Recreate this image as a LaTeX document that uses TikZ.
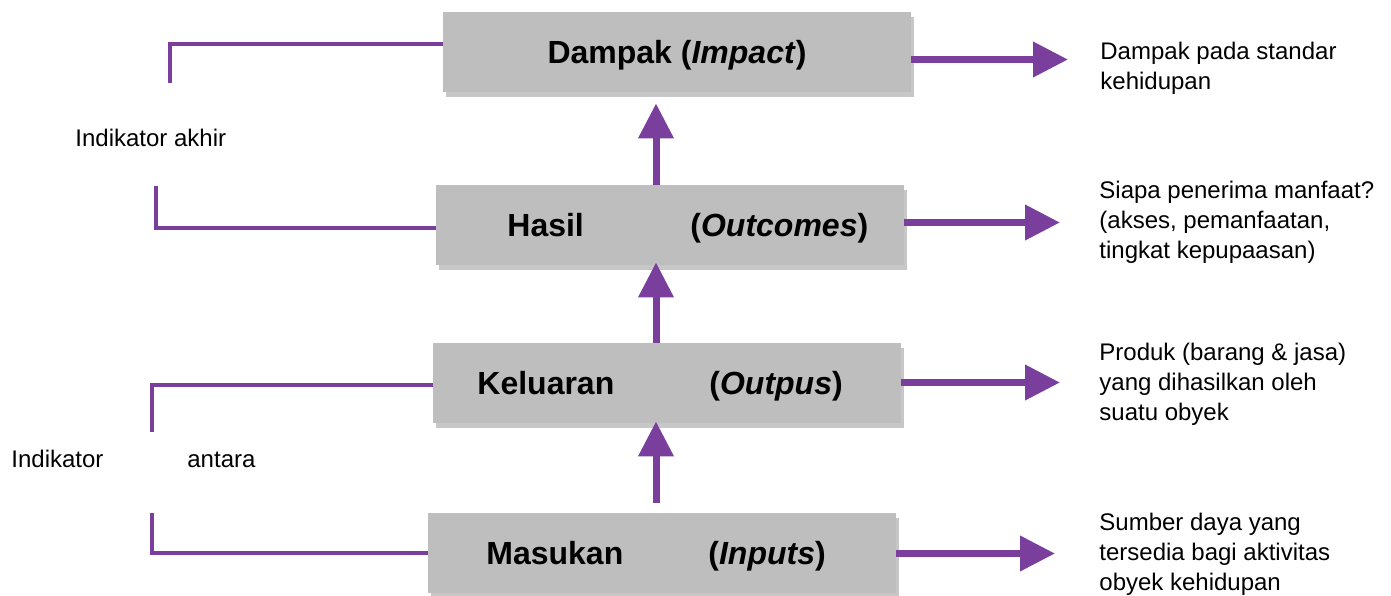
\documentclass[tikz,border=0pt]{standalone}
\usepackage{fontspec}
\setmainfont{Liberation Sans}
\usetikzlibrary{arrows.meta,shadows}
\definecolor{vio}{HTML}{7A3E9D}
\definecolor{boxgray}{HTML}{BEBEBE}
\begin{document}
\begin{tikzpicture}[x=0.5pt,y=-0.5pt,
  box/.style={draw=none, fill=boxgray, minimum width=234pt, minimum height=40pt, inner sep=0pt,
    drop shadow={shadow xshift=1.5pt, shadow yshift=-2.5pt, fill=black, opacity=0.22}},
  btxt/.style={font=\fontsize{16}{19}\selectfont\bfseries, inner sep=0pt, anchor=base west},
  note/.style={font=\fontsize{12}{14.8}\selectfont, align=left, anchor=base west, inner sep=0pt},
  arr/.style={draw=vio, line width=3.5pt, -{Triangle[length=17.5pt,width=17pt]}},
  brk/.style={draw=vio, line width=2.25pt},
]
\useasboundingbox (0,0) rectangle (1391,595);

% boxes
\node[box] (dampak) at (677,52) {};
\node[box] (hasil) at (670,225) {};
\node[box] (keluaran) at (667,383) {};
\node[box] (masukan) at (662,553) {};

% box texts
\node[btxt, anchor=base] (tdampak) at (677,63) {Dampak (\textit{Impact})};
\node[btxt] (thasil) at (507,236) {Hasil};
\node[btxt] (thasilb) at (690,236) {(\textit{Outcomes})};
\node[btxt] (tkel) at (477,394) {Keluaran};
\node[btxt] (tkelb) at (709,394) {(\textit{Outpus})};
\node[btxt] (tmas) at (486,564) {Masukan};
\node[btxt] (tmasb) at (708,564) {(\textit{Inputs})};

% right notes (anchor at baseline of last line)
\node[note] (nD) at (1100,89) {Dampak pada standar\\kehidupan};
\node[note] (nH) at (1099,258) {Siapa penerima manfaat?\\(akses, pemanfaatan,\\tingkat kepupaasan)};
\node[note] (nK) at (1099,420) {Produk (barang \& jasa)\\yang dihasilkan oleh\\suatu obyek};
\node[note] (nM) at (1099,590) {Sumber daya yang\\tersedia bagi aktivitas\\obyek kehidupan};

% left notes
\node[note] (lA) at (75,146) {Indikator akhir};
\node[note] (lB) at (11,467) {Indikator};
\node[note] (lC) at (187,467) {antara};

% right arrows
\coordinate (dD) at (1068,59.5);
\coordinate (dH) at (1060,222.5);
\coordinate (dK) at (1060,382.5);
\coordinate (dM) at (1055,553.5);
\draw[arr] (dampak.east |- dD) -- (dD);
\draw[arr] (hasil.east |- dH) -- (dH);
\draw[arr] (keluaran.east |- dK) -- (dK);
\draw[arr] (masukan.east |- dM) -- (dM);

% vertical arrows
\coordinate (ax) at (656,0);
\draw[arr] (ax |- hasil.north) -- ([yshift=-5.5pt]ax |- dampak.south);
\draw[arr] (ax |- keluaran.north) -- ([yshift=1.5pt]ax |- hasil.south);
\draw[arr] ([yshift=5pt]ax |- masukan.north) -- ([yshift=1pt]ax |- keluaran.south);

% left brackets
\coordinate (bD1) at (170,44);
\coordinate (bD2) at (170,83);
\draw[brk] (dampak.west |- bD1) -- (bD1) -- (bD2);
\coordinate (bH1) at (156,186);
\coordinate (bH2) at (156,228);
\draw[brk] (bH1) -- (bH2) -- (hasil.west |- bH2);
\coordinate (bK1) at (152,385);
\coordinate (bK2) at (152,432);
\draw[brk] (keluaran.west |- bK1) -- (bK1) -- (bK2);
\coordinate (bM1) at (152,513);
\coordinate (bM2) at (152,553);
\draw[brk] (bM1) -- (bM2) -- (masukan.west |- bM2);
\end{tikzpicture}
\end{document}
